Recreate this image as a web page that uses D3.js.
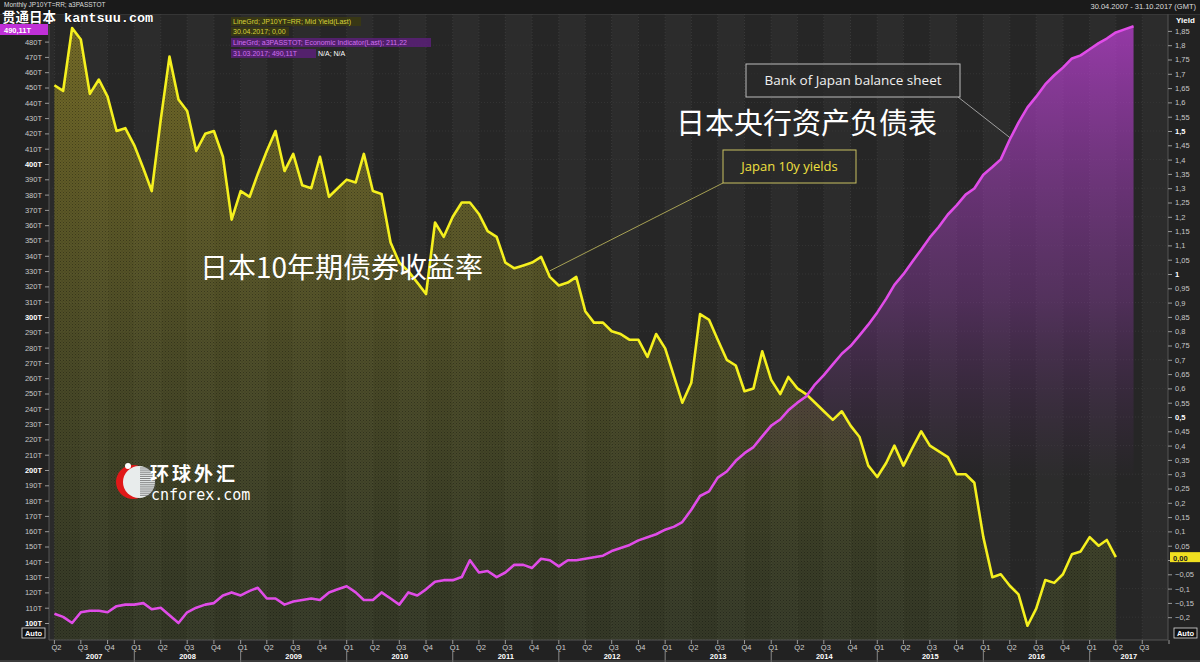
<!DOCTYPE html>
<html><head><meta charset="utf-8">
<script src="https://cdn.jsdelivr.net/npm/d3@7"></script>
<style>
html,body{margin:0;padding:0;background:#1b1b1b;}
svg{display:block;font-family:"DejaVu Sans",Arial,sans-serif;}
</style></head>
<body><svg id="c" width="1200" height="662"></svg>
<script>
// ---------- DATA ----------
const startMonth = [2007, 3]; // April 2007 (month index 0-based)
// Japan 10y JGB yield, monthly, Apr 2007 - Apr 2017 (%)
const yieldValues = [
 1.66,1.64,1.86,1.82,1.63,1.68,1.62,1.50,1.51,1.45,1.37,1.29,
 1.54,1.76,1.61,1.57,1.43,1.49,1.50,1.41,1.19,1.29,1.27,1.35,
 1.43,1.50,1.36,1.42,1.31,1.30,1.41,1.27,1.30,1.33,1.32,1.42,
 1.29,1.28,1.11,1.04,1.01,0.97,0.93,1.18,1.13,1.20,1.25,1.25,
 1.21,1.15,1.13,1.04,1.02,1.03,1.04,1.06,0.99,0.96,0.97,0.99,
 0.87,0.83,0.83,0.80,0.79,0.77,0.77,0.71,0.79,0.74,0.64,0.55,
 0.62,0.86,0.84,0.77,0.70,0.68,0.59,0.60,0.73,0.63,0.58,0.64,
 0.60,0.58,0.55,0.52,0.49,0.52,0.47,0.43,0.33,0.29,0.34,0.40,
 0.33,0.39,0.45,0.40,0.38,0.36,0.30,0.30,0.27,0.08,-0.06,-0.05,
 -0.09,-0.12,-0.23,-0.17,-0.07,-0.08,-0.05,0.02,0.03,0.08,0.05,0.07,
 0.01
];
// Bank of Japan total assets, monthly, Apr 2007 - Jun 2017 (trillion yen)
const bojValues = [
 106,104,100,107,108,108,107,111,112,112,113,109,
 110,105,100,107,110,112,113,118,120,118,121,123,
 116,116,112,114,115,116,115,120,122,124,120,115,
 115,120,116,112,120,118,122,127,128,128,130,141,
 133,134,130,133,138,138,136,142,141,137,141,141,
 142,143,144,147,149,151,154,156,158,161,163,166,
 174,183,186,195,199,206,211,215,222,229,233,239,
 244,248,256,262,269,276,281,288,295,303,312,321,
 328,336,344,352,359,367,373,380,384,393,398,403,
 416,427,437,444,452,458,463,469,471,475,479,482,
 486,488,490
];
const leftTicks = d3.range(100, 481, 10);           // T
const rightTicks = d3.range(-20, 186, 5).map(d => d / 100);
const quarterLabels = ["Q1","Q2","Q3","Q4"];
const years = d3.range(2007, 2018);
const legendLines = [
 "LineGrd; JP10YT=RR; Mid Yield(Last)",
 "30.04.2017; 0,00",
 "LineGrd; a3PASSTOT; Economic Indicator(Last); 211,22",
 "31.03.2017; 490,11T"
];

// ---------- LAYOUT ----------
const W = 1200, H = 662;
const P = {l: 49, r: 1168, t: 14, b: 640};
const svg = d3.select("#c");

const x = d3.scaleTime().domain([new Date(2007,3,1), new Date(2017,9,1)]).range([54.4, 1169]);
const yL = d3.scaleLinear().domain([100, 400]).range([623, 164]);
const yR = d3.scaleLinear().domain([-0.2, 1.85]).range([617.2, 30.9]);

const monthDate = i => new Date(startMonth[0], startMonth[1] + i, 1);
const ySeries = yieldValues.map((v,i)=>({d:monthDate(i), v}));
const bSeries = bojValues.map((v,i)=>({d:monthDate(i), v}));
const lastY = yieldValues[yieldValues.length-1];

// defs
const defs = svg.append("defs");
const gy = defs.append("linearGradient").attr("id","gy").attr("x1",0).attr("x2",0)
  .attr("gradientUnits","userSpaceOnUse").attr("y1",20).attr("y2",P.b);
gy.append("stop").attr("offset",0).attr("stop-color","#b8a628").attr("stop-opacity",0.55);
gy.append("stop").attr("offset",0.55).attr("stop-color","#7e7e28").attr("stop-opacity",0.42);
gy.append("stop").attr("offset",1).attr("stop-color","#566428").attr("stop-opacity",0.30);
const gm = defs.append("linearGradient").attr("id","gm").attr("x1",0).attr("x2",0)
  .attr("gradientUnits","userSpaceOnUse").attr("y1",25).attr("y2",480);
gm.append("stop").attr("offset",0).attr("stop-color","#c040d8").attr("stop-opacity",0.72);
gm.append("stop").attr("offset",0.6).attr("stop-color","#8a3aa0").attr("stop-opacity",0.42);
gm.append("stop").attr("offset",1).attr("stop-color","#6a3080").attr("stop-opacity",0.0);
const pat = defs.append("pattern").attr("id","dots").attr("width",3).attr("height",3).attr("patternUnits","userSpaceOnUse");
pat.append("rect").attr("width",1).attr("height",1).attr("fill","#000").attr("opacity",0.4);
pat.append("rect").attr("x",1.5).attr("y",1.5).attr("width",1).attr("height",1).attr("fill","#000").attr("opacity",0.3);
const clip = defs.append("clipPath").attr("id","pc");
clip.append("rect").attr("x",P.l).attr("y",P.t).attr("width",P.r-P.l).attr("height",P.b-P.t);

// background
svg.append("rect").attr("width",W).attr("height",H).attr("fill","#222222");
svg.append("rect").attr("x",P.l).attr("y",P.t).attr("width",P.r-P.l).attr("height",P.b-P.t).attr("fill","#2a2a2a");

// quarter bands
const qDates = d3.timeMonth.every(3).range(new Date(2007,3,1), new Date(2017,12,1));
const plotG = svg.append("g").attr("clip-path","url(#pc)");
plotG.selectAll("rect.band").data(qDates).join("rect")
  .attr("x", d => x(d)).attr("y", P.t)
  .attr("width", d => x(d3.timeMonth.offset(d,3)) - x(d)).attr("height", P.b-P.t)
  .attr("fill", (d,i) => i%2 ? "#2c2c2c" : "#262626");
// grid
plotG.selectAll("line.vg").data(qDates).join("line")
  .attr("x1", d=>x(d)).attr("x2", d=>x(d)).attr("y1",P.t).attr("y2",P.b)
  .attr("stroke","#3a3a3a").attr("stroke-width",1).attr("stroke-dasharray","1,2");
plotG.selectAll("line.hg").data(rightTicks.filter((d,i)=>i%2===0)).join("line")
  .attr("x1",P.l).attr("x2",P.r).attr("y1",d=>yR(d)).attr("y2",d=>yR(d))
  .attr("stroke","#353535").attr("stroke-width",1).attr("stroke-dasharray","1,2");

// areas
const areaY = d3.area().x(d=>x(d.d)).y0(P.b).y1(d=>yR(d.v));
const areaB = d3.area().x(d=>x(d.d)).y0(P.b).y1(d=>yL(d.v));
plotG.append("path").datum(ySeries).attr("d",areaY).attr("fill","url(#gy)");
plotG.append("path").datum(ySeries).attr("d",areaY).attr("fill","url(#dots)").attr("opacity",0.8);
plotG.append("path").datum(bSeries).attr("d",areaB).attr("fill","url(#gm)");
// lines
plotG.append("path").datum(ySeries).attr("d", d3.line().x(d=>x(d.d)).y(d=>yR(d.v)))
  .attr("fill","none").attr("stroke","#f5f01e").attr("stroke-width",2.6).attr("stroke-linejoin","round");
plotG.append("path").datum(bSeries).attr("d", d3.line().x(d=>x(d.d)).y(d=>yL(d.v)))
  .attr("fill","none").attr("stroke","#e04ce8").attr("stroke-width",2.6).attr("stroke-linejoin","round");

// frame lines
svg.append("line").attr("x1",P.l).attr("x2",P.l).attr("y1",P.t).attr("y2",P.b).attr("stroke","#555");
svg.append("line").attr("x1",P.r).attr("x2",P.r).attr("y1",P.t).attr("y2",P.b).attr("stroke","#555");
svg.append("line").attr("x1",P.l).attr("x2",P.r).attr("y1",P.b).attr("y2",P.b).attr("stroke","#555");
svg.append("line").attr("x1",0).attr("x2",W).attr("y1",P.t).attr("y2",P.t).attr("stroke","#444");

// left axis
const la = svg.append("g").attr("transform",`translate(${P.l},0)`)
  .call(d3.axisLeft(yL).tickValues(leftTicks).tickSize(4).tickFormat(d=>d+"T"));
la.select(".domain").remove();
la.selectAll("line").attr("stroke","#999");
la.selectAll("text").attr("font-size",7.5).attr("font-family","Liberation Sans, Arial")
  .attr("fill", d => d%100===0 ? "#fff" : "#c8c8c8").attr("font-weight", d=>d%100===0?"bold":"normal");
// right axis (the current-value tag replaces the label at the last value)
const fmtR = d => d3.format(".2~f")(d).replace(".",",");
const ra = svg.append("g").attr("transform",`translate(${P.r},0)`)
  .call(d3.axisRight(yR).tickValues(rightTicks).tickSize(4)
    .tickFormat(d => Math.abs(yR(d)-yR(lastY))<6 ? "" : fmtR(d)));
ra.select(".domain").remove();
ra.selectAll("line").attr("stroke","#999");
ra.selectAll("text").attr("font-size",7.5).attr("font-family","Liberation Sans, Arial")
  .attr("fill", d => Math.abs(d*2 - Math.round(d*2))<1e-6 ? "#fff" : "#c8c8c8")
  .attr("font-weight", d => Math.abs(d*2 - Math.round(d*2))<1e-6 ? "bold":"normal");
svg.append("text").attr("x",1176).attr("y",23).attr("font-size",8).attr("fill","#fff").attr("font-weight","bold")
  .attr("font-family","Liberation Sans, Arial").text("Yield");

// value tags
svg.append("rect").attr("x",P.r+2).attr("y",yR(lastY)-5).attr("width",30).attr("height",10).attr("fill","#f0e020");
svg.append("text").attr("x",P.r+5).attr("y",yR(lastY)+3.5).attr("font-size",7.5).attr("font-weight","bold")
  .attr("fill","#222").attr("font-family","Liberation Sans, Arial").text("0,00");
svg.append("rect").attr("x",0).attr("y",24).attr("width",P.l-1).attr("height",11).attr("fill","#c030d8");
svg.append("text").attr("x",4).attr("y",32.5).attr("font-size",7.5).attr("font-weight","bold")
  .attr("fill","#fff").attr("font-family","Liberation Sans, Arial").text("490,11T");
// Auto boxes
[[22,628],[1174,628]].forEach(p=>{
  svg.append("rect").attr("x",p[0]).attr("y",p[1]).attr("width",23).attr("height",10).attr("fill","#111").attr("stroke","#ddd").attr("stroke-width",0.8);
  svg.append("text").attr("x",p[0]+11.5).attr("y",p[1]+8).attr("text-anchor","middle").attr("font-size",7.5)
    .attr("font-weight","bold").attr("fill","#fff").attr("font-family","Liberation Sans, Arial").text("Auto");
});

// bottom axis
const bx = svg.append("g");
bx.selectAll("line.qt").data(qDates).join("line")
  .attr("x1",d=>x(d)).attr("x2",d=>x(d)).attr("y1",P.b).attr("y2",P.b+4).attr("stroke","#999");
bx.selectAll("text.q").data(qDates.filter(d=>x(d)<P.r+1)).join("text")
  .attr("x",d=>x(d)+2).attr("y",P.b+10).attr("text-anchor","middle").attr("font-size",7.5)
  .attr("fill","#d0d0d0").attr("font-family","Liberation Sans, Arial")
  .text(d=>quarterLabels[Math.floor(d.getMonth()/3)]);
bx.selectAll("line.yt").data(years.slice(1)).join("line")
  .attr("x1",d=>x(new Date(d,0,1))).attr("x2",d=>x(new Date(d,0,1))).attr("y1",P.b+11).attr("y2",H)
  .attr("stroke","#888");
bx.selectAll("text.yr").data(years).join("text")
  .attr("x",d=>{const a=Math.max(x(new Date(d,0,1)),P.l+5), b=Math.min(x(new Date(d+1,0,1)),P.r); return (a+b)/2;})
  .attr("y",P.b+19).attr("text-anchor","middle").attr("font-size",7.5).attr("font-weight","bold")
  .attr("fill","#fff").attr("font-family","Liberation Sans, Arial").text(d=>d);
svg.append("line").attr("x1",0).attr("x2",W).attr("y1",H-1).attr("y2",H-1).attr("stroke","#555");

// header
svg.append("rect").attr("x",0).attr("y",0).attr("width",W).attr("height",P.t).attr("fill","#1a1a1a");
svg.append("text").attr("x",4).attr("y",6.5).attr("font-size",6.5).attr("fill","#ddd").attr("font-family","Liberation Sans, Arial")
  .text("Monthly JP10YT=RR; a3PASSTOT");
svg.append("text").attr("x",1196).attr("y",9).attr("text-anchor","end").attr("font-size",7.5).attr("fill","#ddd")
  .attr("font-family","Liberation Sans, Arial").text("30.04.2007 - 31.10.2017 (GMT)");
svg.append("text").attr("x",2).attr("y",22).attr("font-size",13.5).attr("font-weight","bold").attr("fill","#fff")
  .attr("stroke","#000").attr("stroke-width",0.6).attr("paint-order","stroke")
  .attr("font-family","Liberation Mono, Noto Sans CJK SC").text("贯通日本 kantsuu.com");

// legend
const lg = svg.append("g").attr("font-family","Liberation Sans, Arial").attr("font-size",7);
const lgStyle = [
  {bg:"#3b3a12", fg:"#d6d23a", y:24, w:130},
  {bg:"#3b3a12", fg:"#d6d23a", y:34, w:58},
  {bg:"#5a2078", fg:"#d070f0", y:45, w:200},
  {bg:"#5a2078", fg:"#d070f0", y:56, w:85}
];
legendLines.forEach((t,i)=>{
  const s = lgStyle[i];
  lg.append("rect").attr("x",231).attr("y",s.y-7).attr("width",s.w).attr("height",9).attr("fill",s.bg).attr("opacity",0.85);
  lg.append("text").attr("x",233).attr("y",s.y).attr("fill",s.fg).text(t);
});
lg.append("text").attr("x",318).attr("y",56).attr("fill","#fff").text("N/A; N/A");

// annotations
svg.append("rect").attr("x",746).attr("y",64).attr("width",214).attr("height",33).attr("fill","#2a2a2a").attr("fill-opacity",0.6)
  .attr("stroke","#bbb").attr("stroke-width",1);
svg.append("text").attr("x",853).attr("y",85).attr("text-anchor","middle").attr("font-size",13.5).attr("fill","#f0f0f0")
  .attr("font-family","Open Sans, DejaVu Sans").text("Bank of Japan balance sheet");
svg.append("line").attr("x1",958).attr("y1",97).attr("x2",x(monthDate(108))).attr("y2",yL(bojValues[108])-2).attr("stroke","#bbb").attr("stroke-width",0.8);
svg.append("text").attr("x",676).attr("y",134).attr("font-size",29).attr("fill","#fff")
  .attr("font-family","Noto Sans CJK SC").text("日本央行资产负债表");

svg.append("rect").attr("x",723).attr("y",150).attr("width",133).attr("height",33).attr("fill","#2a2a2a").attr("fill-opacity",0.6)
  .attr("stroke","#c8c060").attr("stroke-width",1);
svg.append("text").attr("x",789.5).attr("y",171).attr("text-anchor","middle").attr("font-size",13).attr("fill","#f0e040")
  .attr("font-family","Open Sans, DejaVu Sans").text("Japan 10y yields");
svg.append("line").attr("x1",723).attr("y1",183).attr("x2",x(monthDate(56))).attr("y2",yR(yieldValues[56])-6).attr("stroke","#c8c060").attr("stroke-width",0.8);
svg.append("text").attr("x",200).attr("y",278).attr("font-size",28).attr("fill","#fff")
  .attr("font-family","Noto Sans CJK SC").text("日本10年期债券收益率");

// cnforex logo
const lo = svg.append("g");
lo.append("circle").attr("cx",133).attr("cy",482).attr("r",17).attr("fill","#e01818");
lo.append("circle").attr("cx",139).attr("cy",482).attr("r",16).attr("fill","#e8ecec");
for(let k=0;k<14;k++){ lo.append("line").attr("x1",140).attr("x2",156).attr("y1",468+k*2.1).attr("y2",468+k*2.1).attr("stroke","#555").attr("stroke-width",0.7); }
lo.append("circle").attr("cx",128).attr("cy",466).attr("r",3).attr("fill","#fff");
lo.append("text").attr("x",150).attr("y",481).attr("font-size",19).attr("font-weight","bold").attr("fill","#fff")
  .attr("font-family","Noto Sans CJK SC").attr("letter-spacing",3).text("环球外汇");
lo.append("text").attr("x",151).attr("y",500).attr("font-size",15).attr("fill","#fff")
  .attr("font-family","DejaVu Sans Mono").text("cnforex.com");
</script></body></html>
